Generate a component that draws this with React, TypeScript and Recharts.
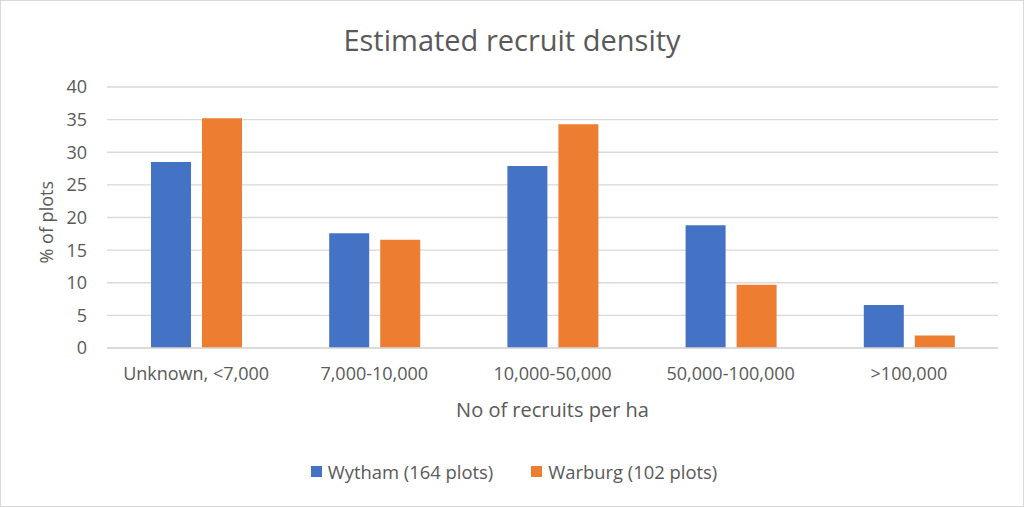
import React from 'react';
import { BarChart, Bar, XAxis, YAxis, CartesianGrid, Legend } from 'recharts';

const categories = ['Unknown, <7,000', '7,000-10,000', '10,000-50,000', '50,000-100,000', '>100,000'];
const wytham = [28.5, 17.6, 27.9, 18.8, 6.6];
const warburg = [35.2, 16.6, 34.3, 9.7, 1.9];
const yTicks = [0, 5, 10, 15, 20, 25, 30, 35, 40];
const seriesNames = ['Wytham (164 plots)', 'Warburg (102 plots)'];
const colors = ['#4472C4', '#ED7D31'];

const data = categories.map((c, i) => ({ name: c, wytham: wytham[i], warburg: warburg[i] }));

const FONT = '"Open Sans", sans-serif';
const TEXT = '#595959';

const renderLegend = () => (
  <div style={{ display: 'flex', justifyContent: 'center', alignItems: 'center', height: 24, paddingLeft: 4, fontFamily: FONT, fontSize: 18.4, color: TEXT }}>
    {seriesNames.map((n, i) => (
      <div key={n} style={{ display: 'flex', alignItems: 'center', marginRight: i === 0 ? 38 : 0 }}>
        <span style={{ display: 'inline-block', width: 11, height: 11, background: colors[i], marginRight: 6 }} />
        <span>{n}</span>
      </div>
    ))}
  </div>
);

export default function App() {
  return (
    <div style={{ position: 'fixed', left: 0, top: 0, width: 1024, height: 507, background: '#fff', border: '1px solid #d9d9d9', boxSizing: 'border-box', overflow: 'hidden' }}>
      <div style={{ position: 'absolute', left: 0, top: 19, width: 1022, textAlign: 'center', fontFamily: FONT, fontSize: 29, lineHeight: 'normal', color: TEXT }}>
        Estimated recruit density
      </div>
      <div style={{ position: 'absolute', left: -1, top: -1 }}>
        <BarChart width={1024} height={507} data={data} margin={{ top: 87, right: 26, left: 0, bottom: 24 }} barSize={40} barGap={11}>
          <CartesianGrid vertical={false} stroke="#d9d9d9" strokeWidth={1.3} />
          <XAxis
            dataKey="name"
            height={111}
            tickLine={false}
            tickSize={0}
            tickMargin={19}
            axisLine={{ stroke: '#d9d9d9', strokeWidth: 1.3 }}
            tick={{ fill: TEXT, fontSize: 18, fontFamily: FONT }}
            interval={0}
            label={{ value: 'No of recruits per ha', position: 'insideBottom', offset: 42, fill: TEXT, fontSize: 20, fontFamily: FONT }}
          />
          <YAxis
            width={107}
            domain={[0, 40]}
            ticks={yTicks}
            axisLine={false}
            tickLine={false}
            tickSize={0}
            tickMargin={20}
            tick={{ fill: TEXT, fontSize: 18, fontFamily: FONT }}
            label={{ value: '% of plots', angle: -90, position: 'insideLeft', offset: 42, dy: 46, dx: 5, fill: TEXT, fontSize: 18, fontFamily: FONT }}
          />
          <Legend verticalAlign="bottom" content={renderLegend} wrapperStyle={{ height: 24, left: 0, width: 1024 }} />
          <Bar dataKey="wytham" name={seriesNames[0]} fill={colors[0]} isAnimationActive={false} />
          <Bar dataKey="warburg" name={seriesNames[1]} fill={colors[1]} isAnimationActive={false} />
        </BarChart>
      </div>
    </div>
  );
}
